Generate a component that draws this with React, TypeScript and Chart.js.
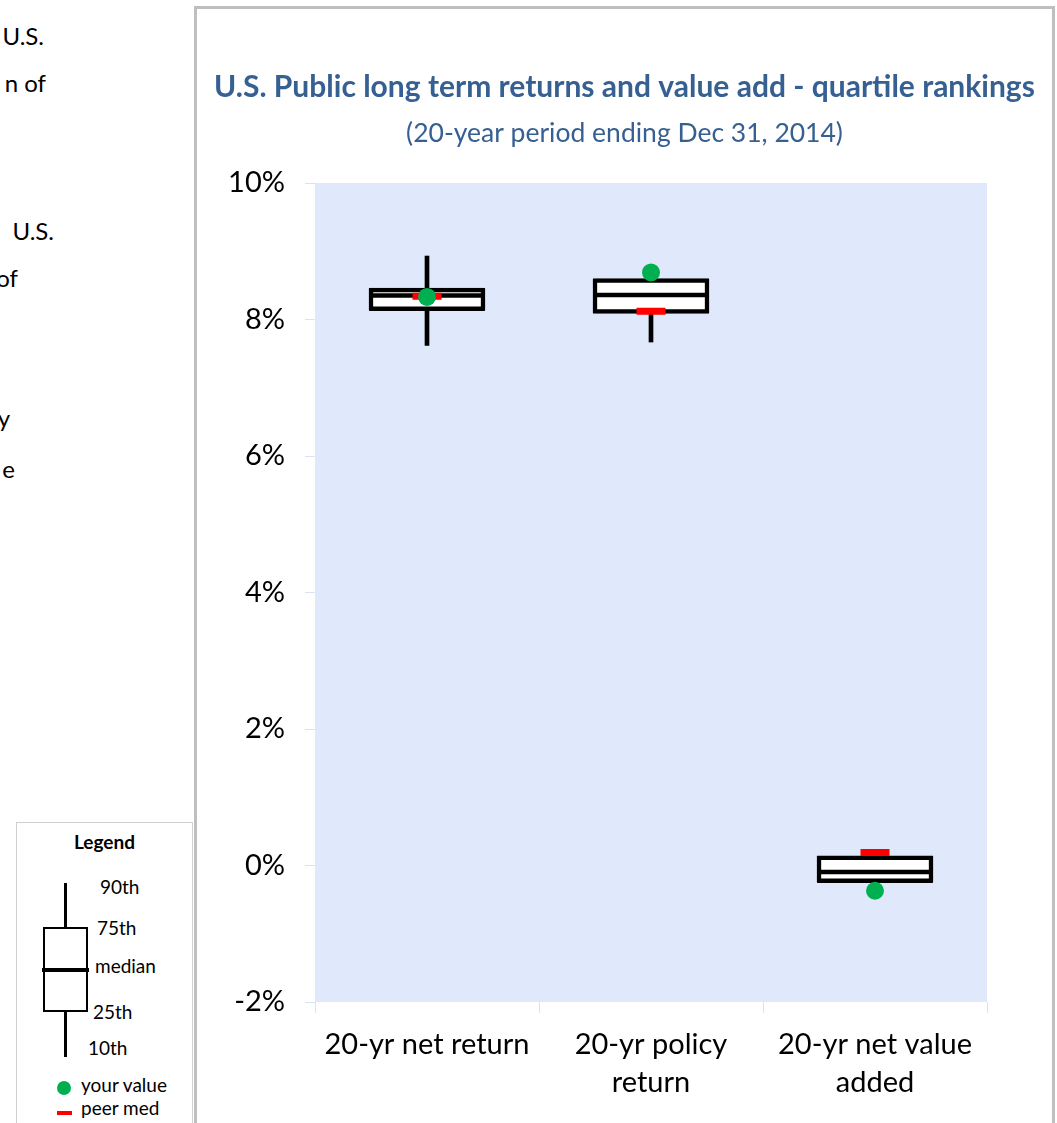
import React, { useEffect, useRef } from "react";
import { Chart, registerables } from "chart.js";

Chart.register(...registerables);

// ---- data ----
const categories: string[][] = [
  ["20-yr net return"],
  ["20-yr policy", "return"],
  ["20-yr net value", "added"],
];
const p10 = [7.62, 7.67, -0.25];
const p25 = [8.13, 8.09, -0.25];
const median = [8.35, 8.36, -0.095];
const p75 = [8.46, 8.6, 0.14];
const p90 = [8.93, 8.64, 0.14];
const yourValue = [8.33, 8.69, -0.37];
const peerMedian = [8.34, 8.12, 0.19];
const yMin = -2;
const yMax = 10;
const yStep = 2;

const titleText = "U.S. Public long term returns and value add - quartile rankings";
const subtitleText = "(20-year period ending Dec 31, 2014)";

const FONT = "Lato, 'Open Sans', sans-serif";
const TITLE_COLOR = "#376092";

const plotBg = {
  id: "plotBg",
  beforeDraw(chart: any) {
    const { ctx, chartArea } = chart;
    if (!chartArea) return;
    ctx.save();
    ctx.fillStyle = "#e0e8fb";
    ctx.fillRect(chartArea.left, chartArea.top, chartArea.right - chartArea.left, chartArea.bottom - chartArea.top);
    ctx.restore();
  },
};

function BoxChart() {
  const ref = useRef<HTMLCanvasElement | null>(null);
  useEffect(() => {
    if (!ref.current) return;
    const chart = new Chart(ref.current, {
      type: "bar",
      data: {
        labels: categories as any,
        datasets: [
          {
            type: "bar",
            label: "10th-90th",
            data: p10.map((v, i) => [v, p90[i]]) as any,
            backgroundColor: "#000000",
            borderWidth: 0,
            barThickness: 4,
            grouped: false,
            order: 5,
          } as any,
          {
            type: "bar",
            label: "25th-75th",
            data: p25.map((v, i) => [v, p75[i]]) as any,
            backgroundColor: "#ffffff",
            borderColor: "#000000",
            borderWidth: 4.5,
            borderSkipped: false,
            borderRadius: 1,
            barThickness: 116,
            grouped: false,
            order: 4,
          } as any,
          {
            type: "line",
            label: "median",
            data: median,
            showLine: false,
            pointStyle: "line",
            pointRadius: 56,
            pointHoverRadius: 56,
            pointBorderWidth: 4.5,
            pointBorderColor: "#000000",
            pointBackgroundColor: "#000000",
            order: 3,
          } as any,
          {
            type: "line",
            label: "peer med",
            data: peerMedian,
            showLine: false,
            pointStyle: "line",
            pointRadius: 14.5,
            pointHoverRadius: 14.5,
            pointBorderWidth: 7,
            pointBorderColor: "#ff0000",
            pointBackgroundColor: "#ff0000",
            order: 2,
          } as any,
          {
            type: "line",
            label: "your value",
            data: yourValue,
            showLine: false,
            pointStyle: "circle",
            pointRadius: 9,
            pointHoverRadius: 9,
            pointBorderWidth: 0,
            pointBackgroundColor: "#00b050",
            order: 1,
          } as any,
        ],
      },
      options: {
        responsive: false,
        animation: false,
        layout: { padding: { left: 0, right: 0, top: 0, bottom: 0 } },
        plugins: {
          legend: { display: false },
          tooltip: { enabled: false },
          title: {
            display: true,
            text: titleText,
            color: TITLE_COLOR,
            font: { family: FONT, size: 30, weight: "bold", lineHeight: 1.2 },
            padding: { top: 60, bottom: 0 },
          },
          subtitle: {
            display: true,
            text: subtitleText,
            color: TITLE_COLOR,
            font: { family: FONT, size: 26.5, lineHeight: 1.2 },
            padding: { top: 12.1, bottom: 34.1 },
          },
        },
        scales: {
          x: {
            offset: true,
            grid: {
              offset: true,
              drawOnChartArea: false,
              drawTicks: true,
              tickLength: 11,
              color: "#d9e1f2",
            },
            border: { display: false },
            ticks: {
              font: { family: FONT, size: 29, lineHeight: 1.31 },
              color: "#000000",
              padding: 13,
              maxRotation: 0,
              autoSkip: false,
            },
            afterFit: (s: any) => {
              s.height = 121;
            },
          },
          y: {
            min: yMin,
            max: yMax,
            ticks: {
              stepSize: yStep,
              callback: (v: any) => v + "%",
              font: { family: FONT, size: 29 },
              color: "#000000",
              padding: 20,
            },
            grid: {
              drawOnChartArea: false,
              drawTicks: true,
              tickLength: 10,
              color: "#d9e1f2",
            },
            border: { display: false },
            afterFit: (s: any) => {
              s.width = 118;
            },
          },
          yRightSpace: {
            type: "linear",
            position: "right",
            display: true,
            ticks: { display: false },
            grid: { display: false, drawTicks: false },
            border: { display: false },
            afterFit: (s: any) => {
              s.width = 65;
            },
          },
        },
      } as any,
      plugins: [plotBg],
    });
    return () => chart.destroy();
  }, []);
  return <canvas ref={ref} width={855} height={1114} style={{ display: "block" }} />;
}

const abs = (s: React.CSSProperties): React.CSSProperties => ({ position: "absolute", ...s });

function Fragment({ text, right, baseline }: { text: string; right: number; baseline: number }) {
  return (
    <div
      style={abs({
        right: 1057 - right,
        top: baseline - 21.3,
        fontFamily: FONT,
        fontSize: 24,
        lineHeight: "24px",
        whiteSpace: "nowrap",
        color: "#000",
      })}
    >
      {text}
    </div>
  );
}

function LegendLabel({ text, left, center }: { text: string; left: number; center: number }) {
  return (
    <div
      style={abs({
        left,
        top: center - 10,
        fontFamily: FONT,
        fontSize: 19,
        lineHeight: "20px",
        whiteSpace: "nowrap",
        color: "#000",
      })}
    >
      {text}
    </div>
  );
}

export default function App() {
  return (
    <div
      style={{
        position: "absolute",
        left: 0,
        top: 0,
        width: 1057,
        height: 1123,
        overflow: "hidden",
        background: "#ffffff",
      }}
    >
      {/* clipped document text on the left */}
      <Fragment text="U.S." right={44} baseline={45} />
      <Fragment text="n of" right={46} baseline={92} />
      <Fragment text="U.S." right={54} baseline={240} />
      <Fragment text="of" right={18} baseline={287} />
      <Fragment text="y" right={10} baseline={427} />
      <Fragment text="e" right={15} baseline={478} />

      {/* legend panel */}
      <div
        style={abs({
          left: 16,
          top: 822,
          width: 177,
          height: 400,
          border: "1px solid #cfcfcf",
          boxSizing: "border-box",
        })}
      />
      <div
        style={abs({
          left: 16,
          width: 177,
          top: 831,
          textAlign: "center",
          fontFamily: FONT,
          fontWeight: "bold",
          fontSize: 19,
          lineHeight: "22px",
          color: "#000",
        })}
      >
        Legend
      </div>
      <div style={abs({ left: 64, top: 883, width: 3, height: 44, background: "#000" })} />
      <div style={abs({ left: 64, top: 1011, width: 3, height: 46, background: "#000" })} />
      <div
        style={abs({
          left: 43,
          top: 927,
          width: 45,
          height: 85,
          border: "2px solid #000",
          boxSizing: "border-box",
          background: "#fff",
        })}
      />
      <div style={abs({ left: 42, top: 968, width: 47, height: 4, background: "#000" })} />
      <LegendLabel text="90th" left={100} center={887} />
      <LegendLabel text="75th" left={97} center={928} />
      <LegendLabel text="median" left={95} center={966} />
      <LegendLabel text="25th" left={93} center={1012} />
      <LegendLabel text="10th" left={88} center={1048} />
      <div style={abs({ left: 57, top: 1081, width: 14, height: 14, borderRadius: "50%", background: "#00b050" })} />
      <LegendLabel text="your value" left={81} center={1085} />
      <div style={abs({ left: 57, top: 1111, width: 15, height: 4, background: "#ff0000" })} />
      <LegendLabel text="peer med" left={81} center={1108} />

      {/* chart frame */}
      <div
        style={abs({
          left: 194,
          top: 6,
          width: 861,
          height: 1200,
          border: "3px solid #bfbfbf",
          boxSizing: "border-box",
        })}
      />
      <div style={abs({ left: 197, top: 9 })}>
        <BoxChart />
      </div>
    </div>
  );
}
